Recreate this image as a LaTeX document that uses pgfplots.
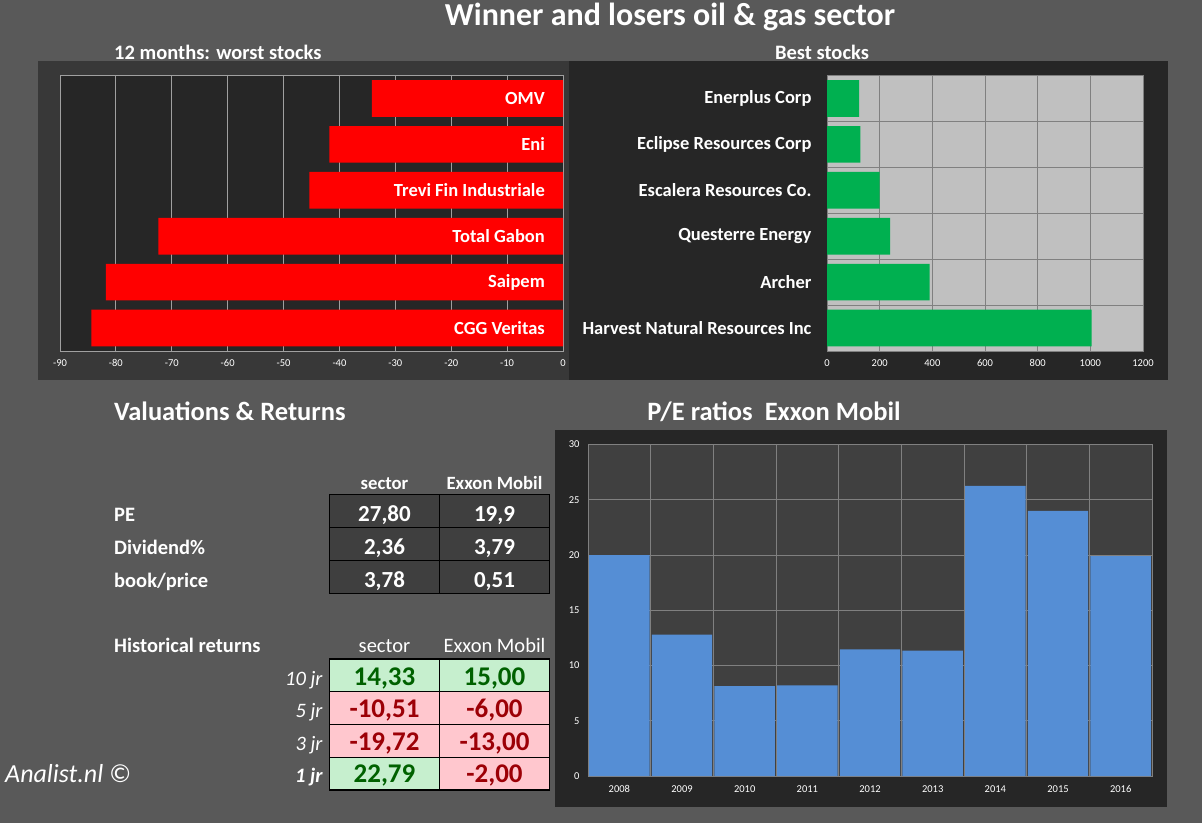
\documentclass[border=0pt]{standalone}
\usepackage{pgfplots}
\pgfplotsset{compat=1.18}
\usepackage{fontspec}
\setmainfont{Carlito}
\definecolor{bgc}{HTML}{595959}
\definecolor{panelL}{HTML}{383838}
\definecolor{panelD}{HTML}{262626}
\definecolor{gridL}{HTML}{A0A0A0}
\definecolor{plotG}{HTML}{C0C0C0}
\definecolor{gridG}{HTML}{808080}
\definecolor{peplot}{HTML}{404040}
\definecolor{blueb}{HTML}{558ED5}
\definecolor{greenb}{HTML}{00B050}
\definecolor{cellD}{HTML}{3F3F3F}
\definecolor{cellG}{HTML}{C6EFCE}
\definecolor{cellR}{HTML}{FFC7CE}
\definecolor{txtG}{HTML}{006100}
\definecolor{txtR}{HTML}{9C0006}
\newcommand{\fs}[1]{\fontsize{#1}{#1}\selectfont}
\pgfplotsset{
  dash/.style={
    scale only axis, anchor=south west,
    /pgf/number format/assume math mode=true,
    /pgf/number format/set thousands separator={},
    scaled ticks=false,
    tick style={draw=none},
    ticklabel style={text=white, font=\fs{10.5}},
  }
}
\begin{document}
\begin{tikzpicture}[x=1pt,y=1pt]
\path[use as bounding box, fill=bgc] (0,0) rectangle (1202,823);
\fill[panelL] (38,443) rectangle (569,762);
\fill[panelD] (569,443) rectangle (1168,762);
\fill[panelD] (555,16) rectangle (1167,393);

% titles
\node[anchor=base, text=white, font=\bfseries\fs{32}, inner sep=0] at (670,797) {Winner and losers oil \& gas sector};
\node[anchor=base west, text=white, font=\bfseries\fs{20.5}, inner sep=0] at (114,763) {12 months: worst stocks};
\node[anchor=base, text=white, font=\bfseries\fs{20.5}, inner sep=0] at (822,763) {Best stocks};

% worst stocks
\begin{axis}[dash,
  at={(60pt,472pt)}, width=503pt, height=275.5pt,
  xmin=-90, xmax=0, ymin=-0.5, ymax=5.5,
  axis background/.style={fill=panelD},
  axis line style={draw=gridL, line width=0.8pt},
  xtick={-90,-80,...,0}, xmajorgrids,
  major grid style={draw=gridL, line width=0.8pt},
  minor grid style={draw=gridL, line width=0.8pt},
  ytick=\empty,
  minor ytick={0.5,1.5,...,4.5}, yminorgrids,
  xticklabel style={yshift=-5pt},
]
\addplot[xbar, fill=red, draw=none, bar width=0.8] coordinates {
  (-84.4,0) (-81.8,1) (-72.4,2) (-45.4,3) (-41.8,4) (-34.2,5)};
\addplot[draw=none, mark=none, point meta=explicit symbolic, nodes near coords,
  nodes near coords style={anchor=east, xshift=-18pt, inner sep=0pt, text=white, font=\bfseries\fs{18.5}}]
  coordinates {(0,0) [CGG Veritas] (0,1) [Saipem] (0,2) [Total Gabon] (0,3) [Trevi Fin Industriale] (0,4) [Eni] (0,5) [OMV]};
\end{axis}

% best stocks
\begin{axis}[dash,
  at={(827pt,472pt)}, width=316pt, height=275.5pt,
  xmin=0, xmax=1200, ymin=-0.5, ymax=5.5,
  axis background/.style={fill=plotG},
  axis line style={draw=gridG, line width=0.8pt},
  xtick={0,200,...,1200}, xmajorgrids,
  major grid style={draw=gridG, line width=0.8pt},
  minor grid style={draw=gridG, line width=0.8pt},
  ytick={0,...,5},
  yticklabels={Harvest Natural Resources Inc, Archer, Questerre Energy, Escalera Resources Co., Eclipse Resources Corp, Enerplus Corp},
  yticklabel style={xshift=-12pt, text=white, font=\bfseries\fs{18.5}},
  minor ytick={0.5,1.5,...,4.5}, yminorgrids,
  xticklabel style={yshift=-5pt},
]
\addplot[xbar, fill=greenb, draw=none, bar width=0.8] coordinates {
  (1005,0) (390,1) (240,2) (200,3) (127,4) (122,5)};
\end{axis}

% P/E chart
\begin{axis}[dash,
  at={(588pt,47pt)}, width=564pt, height=331.5pt,
  xmin=-0.5, xmax=8.5, ymin=0, ymax=30,
  axis background/.style={fill=peplot},
  axis line style={draw=gridG, line width=0.8pt},
  xtick={0,...,8}, xticklabels={2008,2009,2010,2011,2012,2013,2014,2015,2016},
  minor xtick={0.5,1.5,...,7.5}, xminorgrids,
  ytick={0,5,...,30}, ymajorgrids,
  major grid style={draw=gridG, line width=0.8pt},
  minor grid style={draw=gridG, line width=0.8pt},
  xticklabel style={yshift=-6pt},
  yticklabel style={xshift=-5pt},
]
\addplot[ybar, fill=blueb, draw=none, bar width=0.965] coordinates {
  (0,20.0) (1,12.8) (2,8.14) (3,8.2) (4,11.45) (5,11.35) (6,26.25) (7,24.0) (8,19.9)};
\end{axis}

\node[anchor=base, text=white, font=\bfseries\fs{26.5}, inner sep=0] at (774,402.5) {P/E ratios~~Exxon Mobil};
\node[anchor=base west, text=white, font=\bfseries\fs{26.5}, inner sep=0] at (114,402.5) {Valuations \& Returns};

% table 1
\node[anchor=base, text=white, font=\bfseries\fs{18.7}, inner sep=0] at (384.5,334) {sector};
\node[anchor=base, text=white, font=\bfseries\fs{18.7}, inner sep=0] at (494.5,334) {Exxon Mobil};
\fill[cellD] (329.3,229.7) rectangle (549.7,328.7);
\draw[black, line width=1.5pt] (329.3,229.7) rectangle (549.7,328.7);
\draw[black, line width=1.5pt] (439.3,229.7) -- (439.3,328.7);
\draw[black, line width=1.5pt] (329.3,295.3) -- (549.7,295.3);
\draw[black, line width=1.5pt] (329.3,262.3) -- (549.7,262.3);
\foreach \y/\lab/\a/\b in {302/PE/{27,80}/{19,9}, 268.7/Dividend\%/{2,36}/{3,79}, 235.7/book\slash price/{3,78}/{0,51}}{
  \node[anchor=base west, text=white, font=\bfseries\fs{20.5}, inner sep=0] at (114,\y) {\lab};
  \node[anchor=base, text=white, font=\bfseries\fs{23}, inner sep=0] at (384.5,\y) {\a};
  \node[anchor=base, text=white, font=\bfseries\fs{23}, inner sep=0] at (494.5,\y) {\b};
}

% table 2
\node[anchor=base west, text=white, font=\bfseries\fs{20.5}, inner sep=0] at (114,170.7) {Historical returns};
\node[anchor=base, text=white, font=\fs{20.5}, inner sep=0] at (384.5,170.7) {sector};
\node[anchor=base, text=white, font=\fs{20.5}, inner sep=0] at (494.5,170.7) {Exxon Mobil};
\fill[cellG] (329.3,131.3) rectangle (439.3,164);
\fill[cellG] (439.3,131.3) rectangle (549.7,164);
\fill[cellR] (329.3,65.7) rectangle (549.7,131.3);
\fill[cellG] (329.3,33) rectangle (439.3,65.7);
\fill[cellR] (439.3,33) rectangle (549.7,65.7);
\draw[black, line width=1.5pt] (329.3,33) rectangle (549.7,164);
\draw[black, line width=1.5pt] (439.3,33) -- (439.3,164);
\draw[black, line width=1.5pt] (329.3,131.3) -- (549.7,131.3);
\draw[black, line width=1.5pt] (329.3,98.7) -- (549.7,98.7);
\draw[black, line width=1.5pt] (329.3,65.7) -- (549.7,65.7);
\node[anchor=base east, text=white, font=\itshape\fs{20.5}, inner sep=0] at (322.7,138) {10 jr};
\node[anchor=base east, text=white, font=\itshape\fs{20.5}, inner sep=0] at (322.7,105.7) {5 jr};
\node[anchor=base east, text=white, font=\itshape\fs{20.5}, inner sep=0] at (322.7,73) {3 jr};
\node[anchor=base east, text=white, font=\bfseries\itshape\fs{20.5}, inner sep=0] at (322.7,40.3) {1 jr};
\node[anchor=base, text=txtG, font=\bfseries\fs{27}, inner sep=0] at (384.5,138) {14,33};
\node[anchor=base, text=txtG, font=\bfseries\fs{27}, inner sep=0] at (494.5,138) {15,00};
\node[anchor=base, text=txtR, font=\bfseries\fs{27}, inner sep=0] at (384.5,105.7) {-10,51};
\node[anchor=base, text=txtR, font=\bfseries\fs{27}, inner sep=0] at (494.5,105.7) {-6,00};
\node[anchor=base, text=txtR, font=\bfseries\fs{27}, inner sep=0] at (384.5,73) {-19,72};
\node[anchor=base, text=txtR, font=\bfseries\fs{27}, inner sep=0] at (494.5,73) {-13,00};
\node[anchor=base, text=txtG, font=\bfseries\fs{27}, inner sep=0] at (384.5,40.3) {22,79};
\node[anchor=base, text=txtR, font=\bfseries\fs{27}, inner sep=0] at (494.5,40.3) {-2,00};

\node[anchor=base west, text=white, font=\itshape\fs{26}, inner sep=0] at (5,40.3) {Analist.nl ©};
\end{tikzpicture}
\end{document}
